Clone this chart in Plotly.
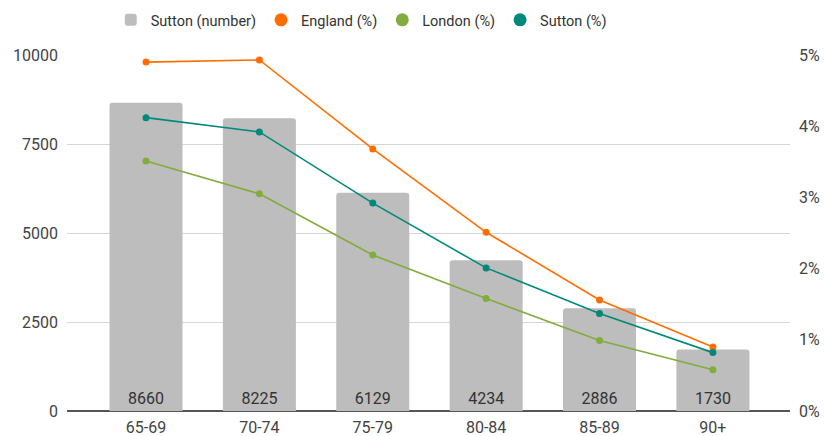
import plotly.graph_objects as go

# Age bands and values
age_bands = ["65-69", "70-74", "75-79", "80-84", "85-89", "90+"]
sutton_number = [8660, 8225, 6129, 4234, 2886, 1730]
england_pct = [0.0490, 0.0493, 0.0368, 0.0251, 0.0156, 0.0090]
london_pct = [0.0351, 0.0305, 0.0219, 0.0158, 0.0099, 0.0058]
sutton_pct = [0.0412, 0.0392, 0.0292, 0.0201, 0.0137, 0.0082]

left_ticks = [0, 2500, 5000, 7500, 10000]
left_tick_text = ["0", "2500", "5000", "7500", "10000"]
right_ticks = [0, 0.01, 0.02, 0.03, 0.04, 0.05]

FONT = "Roboto, Arial, sans-serif"
BAR_COLOR = "#bdbdbd"
line_series = [
    ("England (%)", england_pct, "#ff6d01"),
    ("London (%)", london_pct, "#80ad3c"),
    ("Sutton (%)", sutton_pct, "#00897b"),
]

fig = go.Figure()

fig.add_trace(go.Bar(
    x=age_bands, y=sutton_number, name="Sutton (number)",
    marker=dict(color=BAR_COLOR, cornerradius=3, line=dict(width=0)),
    width=0.644,
    text=[str(v) for v in sutton_number],
    textposition="inside", insidetextanchor="start",
    textfont=dict(family=FONT, size=16, color="#333333"),
    textangle=0,
    hoverinfo="x+y",
))

for name, vals, color in line_series:
    fig.add_trace(go.Scatter(
        x=age_bands, y=vals, name=name, yaxis="y2",
        mode="lines+markers",
        line=dict(color=color, width=1.6),
        marker=dict(color=color, size=7),
        showlegend=False,
    ))
    # circle-only legend entry
    fig.add_trace(go.Scatter(
        x=[None], y=[None], name=name, yaxis="y2",
        mode="markers",
        marker=dict(color=color, size=13, symbol="circle"),
        showlegend=True,
    ))

fig.update_layout(
    width=825, height=436,
    margin=dict(l=67, r=35, t=55, b=25, autoexpand=False),
    paper_bgcolor="white", plot_bgcolor="white",
    font=dict(family=FONT, size=16, color="#444444"),
    legend=dict(
        orientation="h", x=0.407, xanchor="center",
        yref="container", y=0.991, yanchor="top",
        font=dict(family=FONT, size=14.5, color="#333333"),
        itemwidth=30, itemsizing="trace", tracegroupgap=0,
    ),
    xaxis=dict(
        type="category", range=[-0.697, 5.68],
        showgrid=False, showline=False, zeroline=False,
        tickfont=dict(family=FONT, size=16, color="#444444"),
        ticks="", ticklabelstandoff=5,
    ),
    yaxis=dict(
        range=[0, 10000], tickvals=left_ticks, ticktext=left_tick_text,
        showgrid=True, gridcolor="#d6d6d6", gridwidth=1,
        zeroline=True, zerolinecolor="#555555", zerolinewidth=1.6,
        showline=False, ticks="", ticklabelstandoff=8,
        tickfont=dict(family=FONT, size=16, color="#444444"),
    ),
    yaxis2=dict(
        range=[0, 0.05], tickvals=right_ticks, tickformat=".0%",
        overlaying="y", side="right",
        showgrid=False, zeroline=False, showline=False,
        ticks="", ticklabelstandoff=8,
        tickfont=dict(family=FONT, size=16, color="#444444"),
    ),
)

fig.write_html("out.html")
